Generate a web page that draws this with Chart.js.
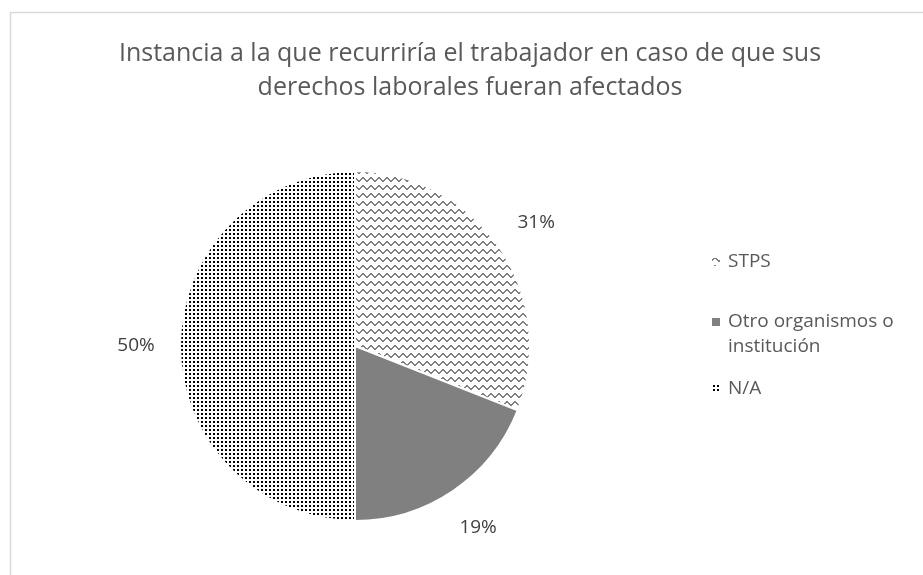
<!DOCTYPE html>
<html>
<head>
<meta charset="utf-8">
<script src="https://cdn.jsdelivr.net/npm/chart.js@4/dist/chart.umd.min.js"></script>
<style>
  html, body { margin: 0; padding: 0; background: #fff; }
  #wrap { width: 923px; height: 575px; }
</style>
</head>
<body>
<div id="wrap"><canvas id="pie_canvas" width="923" height="575"></canvas></div>
<script>
// data
const categories = ["STPS", "Otro organismos o institución", "N/A"];
const legendLines = [["STPS"], ["Otro organismos o", "institución"], ["N/A"]];
const percents = [31, 19, 50];
const titleLines = ["Instancia a la que recurriría el trabajador en caso de que sus",
                    "derechos laborales fueran afectados"];

const FONT = "'Open Sans', sans-serif";
const TEXT = "#595959";

// fill patterns like the office chart
function wavePattern() {
    const c = document.createElement("canvas");
    c.width = 8; c.height = 8;
    const g = c.getContext("2d");
    g.fillStyle = "#fff";
    g.fillRect(0, 0, 8, 8);
    g.fillStyle = "#808080";
    const ys = [3, 2, 1, 1, 2, 3, 4, 4];
    for (let x = 0; x < 8; x++) g.fillRect(x, ys[x], 1, 2);
    return g.createPattern(c, "repeat");
}
function dotPattern() {
    const c = document.createElement("canvas");
    c.width = 4; c.height = 4;
    const g = c.getContext("2d");
    g.fillStyle = "#fff";
    g.fillRect(0, 0, 4, 4);
    g.fillStyle = "#000";
    g.fillRect(1, 1, 2, 2);
    return g.createPattern(c, "repeat");
}
const fills = [wavePattern(), "#808080", dotPattern()];

const frame = {
    id: "frame",
    beforeDraw(chart) {
        const g = chart.ctx;
        g.save();
        g.fillStyle = "#fff";
        g.fillRect(0, 0, chart.width, chart.height);
        g.strokeStyle = "#d9d9d9";
        g.lineWidth = 1.5;
        g.strokeRect(10.5, 12.5, 1000, 1000);
        g.fillStyle = TEXT;
        g.font = "25px " + FONT;
        g.textAlign = "center";
        g.textBaseline = "middle";
        g.fillText(titleLines[0], 470, 54);
        g.fillText(titleLines[1], 470, 88);
        g.restore();
    },
    afterDraw(chart) {
        const g = chart.ctx;
        const meta = chart.getDatasetMeta(0);
        g.save();
        g.fillStyle = "#404040";
        g.font = "19px " + FONT;
        g.textAlign = "center";
        g.textBaseline = "middle";
        meta.data.forEach((arc, i) => {
            const mid = (arc.startAngle + arc.endAngle) / 2;
            const r = arc.outerRadius + 44;
            g.fillText(percents[i] + "%", arc.x + Math.cos(mid) * r, arc.y + Math.sin(mid) * r);
        });
        // legend
        const ys = [262, 322, 389];
        g.textAlign = "left";
        g.font = "19px " + FONT;
        categories.forEach((c, i) => {
            g.fillStyle = fills[i];
            g.fillRect(712, ys[i] - 4, 8, 8);
            g.fillStyle = TEXT;
            legendLines[i].forEach((t, k) => g.fillText(t, 728, ys[i] + k * 25));
        });
        g.restore();
    }
};

const ctx = document.getElementById("pie_canvas");
new Chart(ctx, {
    type: "pie",
    data: {
        labels: categories,
        datasets: [{
            data: percents,
            backgroundColor: fills,
            borderColor: "#fff",
            borderWidth: 2
        }]
    },
    options: {
        responsive: false,
        animation: false,
        layout: { padding: { top: 170, bottom: 53, left: 179, right: 392 } },
        plugins: {
            legend: { display: false },
            title: { display: false },
            tooltip: { enabled: false }
        }
    },
    plugins: [frame]
});
</script>
</body>
</html>
